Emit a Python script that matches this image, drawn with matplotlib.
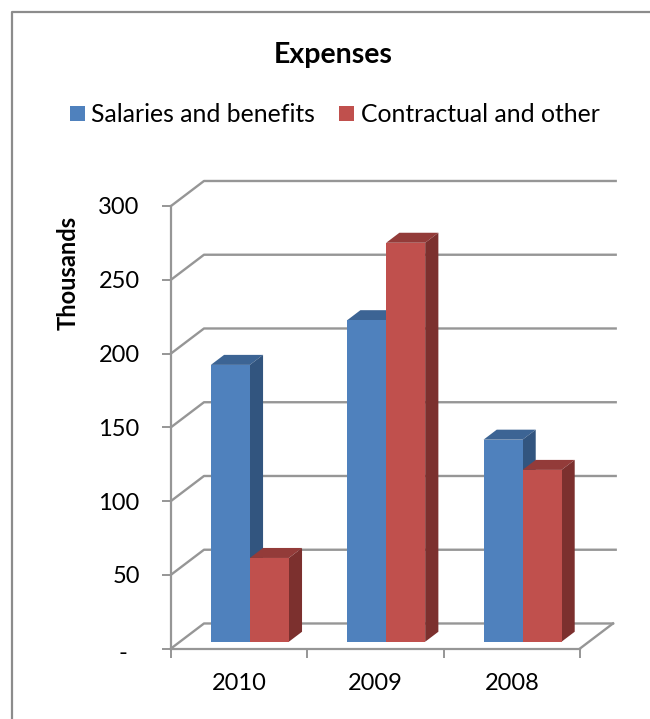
import matplotlib.pyplot as plt
from matplotlib.lines import Line2D
from matplotlib.patches import Polygon
from matplotlib.patches import Rectangle
from matplotlib.transforms import ScaledTranslation

plt.rcParams['font.family'] = ['Lato', 'DejaVu Sans']

categories = ['2010', '2009', '2008']
salaries = [187.7, 218, 137]
contractual = [56.8, 270.5, 116.5]
yticks = [0, 50, 100, 150, 200, 250, 300]
yticklabels = ['-', '50', '100', '150', '200', '250', '300']

W, H = 650, 719
blue, blue_top, blue_side = '#4f81bd', '#3c6494', '#32557f'
red, red_top, red_side = '#c0504d', '#933b39', '#7c302e'
grid = '#969696'

# depth of the fake 3d box, in data units
depth_x = 33 / 136.4
depth_y = 25 / 1.474
bar_w = 39 / 136.4
gap = 30 / 136.4


def px_rect(x0, y0, x1, y1):
    return [x0 / W, 1 - y1 / H, (x1 - x0) / W, (y1 - y0) / H]


def bar3d(ax, x, h, front, top, side):
    # bar sits in the middle of the floor depth
    x0 = x + 0.3 * depth_x
    y0 = 0.27 * depth_y
    dx = 0.4 * depth_x
    dy = 0.4 * depth_y
    ax.bar(x0, h, bar_w, bottom=y0, align='edge', color=front, zorder=4)
    y1 = y0 + h
    x1 = x0 + bar_w
    ax.add_patch(Polygon([(x0, y1), (x1, y1), (x1 + dx, y1 + dy), (x0 + dx, y1 + dy)],
                         color=top, lw=0, zorder=3, clip_on=False))
    ax.add_patch(Polygon([(x1, y0), (x1, y1), (x1 + dx, y1 + dy), (x1 + dx, y0 + dy)],
                         color=side, lw=0, zorder=3, clip_on=False))


fig = plt.figure(figsize=(W / 100, H / 100), dpi=100)
# chart frame, runs off the picture on the right and at the bottom
fig.add_artist(Line2D([11.5 / W, 11.5 / W, 1], [0, 1 - 11.5 / H, 1 - 11.5 / H],
                      transform=fig.transFigure, color='#8c8c8c', lw=1.6))

ax = fig.add_axes(px_rect(171, 206, 580, 648.5))
ax.set_xlim(0, 3)
ax.set_ylim(0, 300)
ax.patch.set_alpha(0)
for s in ['top', 'right']:
    ax.spines[s].set_visible(False)
for s in ['left', 'bottom']:
    ax.spines[s].set_color(grid)
    ax.spines[s].set_linewidth(1.6)

# walls and floor
for v in yticks:
    ax.plot([0, depth_x, 3 + depth_x if v == 0 else 3.02 + depth_x],
            [v, v + depth_y, v + depth_y], color=grid, lw=1.7, clip_on=False, zorder=1)
ax.plot([3, 3 + depth_x], [0, depth_y], color=grid, lw=1.7, clip_on=False, zorder=1)

for i in range(len(categories)):
    bar3d(ax, i + gap, salaries[i], blue, blue_top, blue_side)
    bar3d(ax, i + gap + bar_w, contractual[i], red, red_top, red_side)

ax.set_xticks([0, 1, 2, 3])
ax.set_xticklabels([])
ax.set_yticks(yticks)
ax.set_yticklabels(yticklabels, fontsize=17)
ax.tick_params(axis='y', length=6.5, width=1.4, color=grid, pad=16)
ax.tick_params(axis='x', length=6.5, width=1.4, color=grid)
# the dash for zero sits further left than the numbers
dash = ax.get_yticklabels()[0]
dash.set_transform(dash.get_transform() + ScaledTranslation(-12 / 100, -3 / 100, fig.dpi_scale_trans))
for i, c in enumerate(categories):
    ax.annotate(c, (i + 0.5, 0), xytext=(0, -18), textcoords='offset points',
                ha='center', va='top', fontsize=17)

ax.set_ylabel('Thousands', fontsize=17, fontweight='bold')
ax.yaxis.set_label_coords((80 - 171) / 409, 1 - (273 - 206) / 442.5)

fig.text(333 / W, 1 - 55.5 / H, 'Expenses', ha='center', va='center', fontsize=20.5, fontweight='bold')

# legend
fig.add_artist(Rectangle((70 / W, 1 - 121 / H), 15 / W, 15 / H, transform=fig.transFigure, color=blue, lw=0))
fig.text(91 / W, 1 - 114 / H, 'Salaries and benefits', va='center', fontsize=17.8)
fig.add_artist(Rectangle((339 / W, 1 - 121 / H), 15 / W, 15 / H, transform=fig.transFigure, color=red, lw=0))
fig.text(361 / W, 1 - 114 / H, 'Contractual and other', va='center', fontsize=17.8)

fig.savefig('out.png', dpi=100)
